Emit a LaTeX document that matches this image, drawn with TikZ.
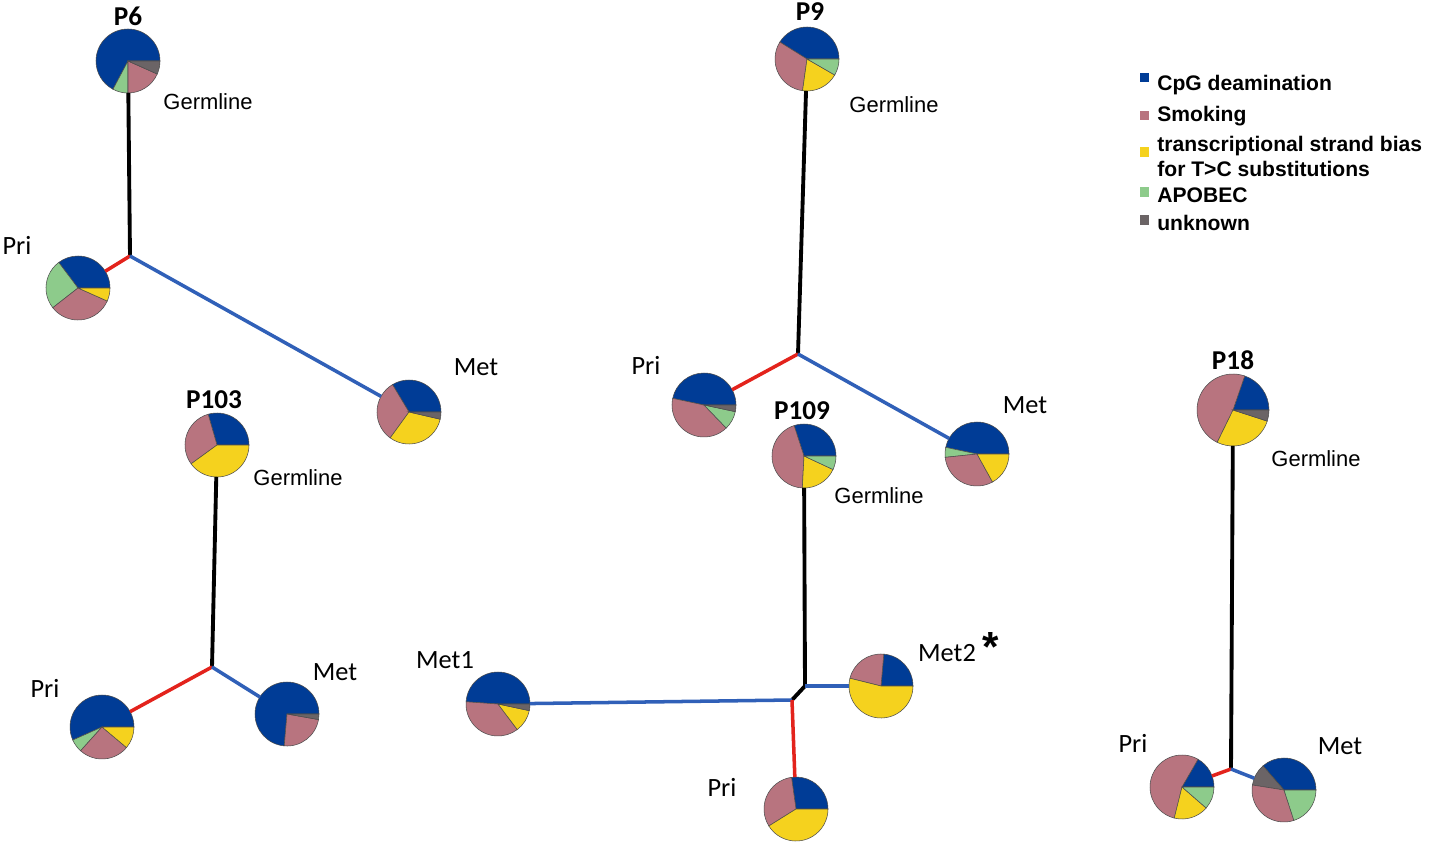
\documentclass[tikz,border=0pt]{standalone}
\usepackage{fontspec}
\newfontfamily\calibfont{Carlito}
\newfontfamily\arialfont{Liberation Sans}

\definecolor{cpg}{RGB}{0,60,150}
\definecolor{smk}{RGB}{184,116,127}
\definecolor{tcb}{RGB}{245,210,30}
\definecolor{apo}{RGB}{141,203,139}
\definecolor{unk}{RGB}{107,100,102}
\definecolor{trunkred}{RGB}{227,35,28}
\definecolor{trunkblue}{RGB}{48,96,184}

% pie node: name, position, radius (px), slices start/end/colour
\newcommand{\mutpie}[4]{%
    \node[piebox, minimum size={#3*0.04cm}] (#1) at (#2) {};
    \foreach \a/\b/\c in {#4}
        \filldraw[slice, fill=\c] (#1.center) -- ++(\a:#3) arc[start angle=\a, end angle=\b, radius=#3] -- cycle;
}

\begin{document}
\begin{tikzpicture}[x=0.02cm,y=0.02cm,
    piebox/.style={circle,inner sep=0pt,outer sep=0pt},
    slice/.style={draw=gray!60!black,line width=0.3pt},
    trunk/.style={line width=2.2pt,black},
    pribranch/.style={line width=2pt,trunkred},
    metbranch/.style={line width=2pt,trunkblue},
    patient/.style={font=\calibfont\bfseries\fontsize{15.5}{18}\selectfont},
    sample/.style={font=\calibfont\fontsize{15}{18}\selectfont},
    germ/.style={font=\arialfont\fontsize{12.5}{15}\selectfont},
    legtext/.style={anchor=base west,inner sep=0pt,font=\arialfont\bfseries\fontsize{12}{14}\selectfont}]

    % white background, fixes the size
    \useasboundingbox[fill=white] (0,0) rectangle (1437,-848);

    % branch points
    \coordinate (j6) at (130,-256);
    \coordinate (j9) at (798,-354);
    \coordinate (j103) at (212,-667);
    \coordinate (j109a) at (805,-686);
    \coordinate (j109b) at (792,-700);
    \coordinate (j18) at (1231,-769);

    % P6
    \mutpie{p6g}{128,-61}{32}{0/242/cpg, 242/270/apo, 270/336/smk, 336/360/unk}
    \mutpie{p6p}{78,-288}{32}{0/127/cpg, 127/218/apo, 218/336/smk, 336/360/tcb}
    \mutpie{p6m}{409,-412}{32}{0/121/cpg, 121/234/smk, 234/347/tcb, 347/360/unk}
    \draw[trunk] (p6g) -- (j6);
    \draw[pribranch] (j6) -- (p6p);
    \draw[metbranch] (j6) -- (p6m);
    \node[patient] (p6name) at (128,-16) {P6};
    \node[germ] (p6germ) at (208,-102) {Germline};
    \node[sample] (p6pri) at (17,-245) {Pri};
    \node[sample] (p6met) at (476,-367) {Met};

    % P9
    \mutpie{p9g}{807,-59}{32}{0/148/cpg, 148/262/smk, 262/330/tcb, 330/360/apo}
    \mutpie{p9p}{704,-405}{32}{0/168/cpg, 168/314/smk, 314/348/apo, 348/360/unk}
    \mutpie{p9m}{977,-454}{32}{0/168/cpg, 168/186/apo, 186/299/smk, 299/360/tcb}
    \draw[trunk] (p9g) -- (j9);
    \draw[pribranch] (j9) -- (p9p);
    \draw[metbranch] (j9) -- (p9m);
    \node[patient] (p9name) at (810,-12) {P9};
    \node[germ] (p9germ) at (894,-105) {Germline};
    \node[sample] (p9pri) at (646,-365) {Pri};
    \node[sample] (p9met) at (1025,-405) {Met};

    % P103
    \mutpie{p103g}{217,-445}{32}{0/106/cpg, 106/216/smk, 216/360/tcb}
    \mutpie{p103p}{102,-727}{32}{0/204/cpg, 204/228/apo, 228/320/smk, 320/360/tcb}
    \mutpie{p103m}{287,-714}{32}{0/265/cpg, 265/350/smk, 350/360/unk}
    \draw[trunk] (p103g) -- (j103);
    \draw[pribranch] (j103) -- (p103p);
    \draw[metbranch] (j103) -- (p103m);
    \node[patient] (p103name) at (214,-400) {P103};
    \node[germ] (p103germ) at (298,-478) {Germline};
    \node[sample] (p103pri) at (45,-688) {Pri};
    \node[sample] (p103met) at (335,-672) {Met};

    % P109
    \mutpie{p109g}{804,-456}{32}{0/108/cpg, 108/267/smk, 267/335/tcb, 335/360/apo}
    \mutpie{p109a}{498,-704}{32}{0/176/cpg, 176/307/smk, 307/348/tcb, 348/360/unk}
    \mutpie{p109b}{881,-686}{32}{0/85/cpg, 85/166/smk, 166/360/tcb}
    \mutpie{p109p}{796,-809}{32}{0/98/cpg, 98/212/smk, 212/360/tcb}
    \draw[trunk] (p109g) -- (j109a) -- (j109b);
    \draw[metbranch] (j109a) -- (p109b);
    \draw[metbranch] (j109b) -- (p109a);
    \draw[pribranch] (j109b) -- (p109p);
    \node[patient] (p109name) at (802,-411) {P109};
    \node[germ] (p109germ) at (879,-496) {Germline};
    \node[sample] (p109met1) at (445,-660) {Met1};
    \node[sample] (p109met2) at (947,-653) {Met2};
    \node[anchor=base,font=\arialfont\bfseries\fontsize{24}{24}\selectfont] (met2star) at (991,-661) {*};
    \node[sample] (p109pri) at (722,-787) {Pri};

    % P18
    \mutpie{p18g}{1233,-410}{36}{0/71/cpg, 71/244/smk, 244/342/tcb, 342/360/unk}
    \mutpie{p18p}{1182,-787}{32}{0/60/cpg, 60/256/smk, 256/319/tcb, 319/360/apo}
    \mutpie{p18m}{1284,-790}{32}{0/131/cpg, 131/171/unk, 171/288/smk, 288/360/apo}
    \draw[trunk] (p18g) -- (j18);
    \draw[pribranch] (j18) -- (p18p);
    \draw[metbranch] (j18) -- (p18m);
    \node[patient] (p18name) at (1233,-360) {P18};
    \node[germ] (p18germ) at (1316,-459) {Germline};
    \node[sample] (p18pri) at (1133,-743) {Pri};
    \node[sample] (p18met) at (1340,-746) {Met};

    % legend
    \foreach \col/\sq in {cpg/73, smk/111, tcb/147, apo/187, unk/215}
        \fill[\col] (1140,-\sq) rectangle ++(9,-9.5);
    \node[legtext] (legcpg) at (1157,-91) {CpG deamination};
    \node[legtext] (legsmk) at (1157,-122) {Smoking};
    \node[legtext] (legtcb) at (1157,-152) {transcriptional strand bias};
    \node[legtext] (legtcc) at (1157,-176) {for T>C substitutions};
    \node[legtext] (legapo) at (1157,-202) {APOBEC};
    \node[legtext] (legunk) at (1157,-230) {unknown};

\end{tikzpicture}
\end{document}
